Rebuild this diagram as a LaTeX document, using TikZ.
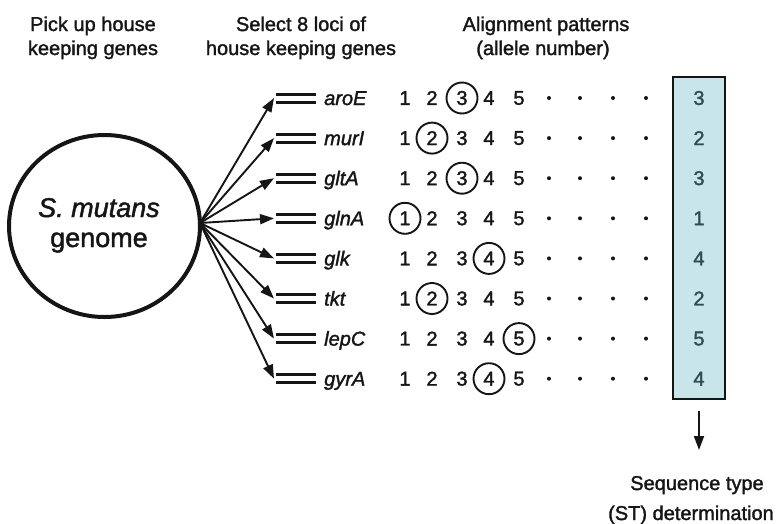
\documentclass[tikz,border=0pt]{standalone}
\usepackage{fontspec}
\setmainfont{Liberation Sans}[FakeBold=1.6]
\usetikzlibrary{arrows.meta,shapes.geometric}
\definecolor{boxfill}{HTML}{C8E5E9}
\definecolor{boxtext}{HTML}{2F4A50}
\definecolor{ink}{HTML}{151515}
\begin{document}
\begin{tikzpicture}[x=1pt,y=-1pt,
  font=\fontsize{20}{24}\selectfont, color=ink,
  hdr/.style={anchor=base, inner sep=0pt},
  gene/.style={anchor=base west, inner sep=0pt, yshift=-7pt, font=\fontsize{20}{24}\selectfont\itshape},
  num/.style={anchor=center, inner sep=0pt},
  circ/.style={draw, circle, minimum size=31pt, inner sep=0pt, line width=1.9pt},
  boxnum/.style={anchor=center, inner sep=0pt, text=boxtext},
  arr/.style={line width=1.9pt, -{Triangle[length=14pt,width=10pt]}},
  dbl/.style={line width=3pt},
  dotmark/.style={circle, fill=ink, inner sep=0pt, minimum size=4pt}
]
\useasboundingbox (0,0) rectangle (778,523);

% headers
\node[hdr] (h1a) at (93,31) {Pick up house};
\node[hdr] (h1b) at (93,55) {keeping genes};
\node[hdr] (h2a) at (301,31) {Select 8 loci of};
\node[hdr] (h2b) at (301,55) {house keeping genes};
\node[hdr] (h3a) at (546,31) {Alignment patterns};
\node[hdr] (h3b) at (543,55) {(allele number)};

% genome
\node[ellipse, draw, line width=4pt, minimum width=191pt, minimum height=182pt] (genome) at (104.5,226) {};
\node[hdr, font=\fontsize{27}{30}\selectfont\itshape] (gtxt1) at (99,217) {S. mutans};
\node[hdr, font=\fontsize{27}{30}\selectfont] (gtxt2) at (99,247) {genome};
\coordinate (src) at (200,223);

% ST box
\node[draw, fill=boxfill, line width=1.5pt, minimum width=52pt, minimum height=322pt, inner sep=0pt] (stbox) at (699,238) {};

\foreach \g/\c [count=\i from 0] in {aroE/3, murI/2, gltA/3, glnA/1, glk/4, tkt/2, lepC/5, gyrA/4}{
  \pgfmathsetmacro\yy{98+40.1*\i}
  \coordinate (tip\i) at (274,\yy);
  \draw[dbl] (276,\yy-4) -- (316,\yy-4);
  \draw[dbl] (276,\yy+4) -- (316,\yy+4);
  \draw[arr] (src) -- (tip\i);
  \node[gene] (g\i) at (324,\yy) {\g};
  \foreach \n/\xx in {1/405,2/432,3/462,4/489,5/519}{
    \node[num] (n\i-\n) at (\xx,\yy) {\n};
  }
  \node[circ] (c\i) at (n\i-\c) {};
  \foreach \xx [count=\k] in {549,580,613,646}{
    \node[dotmark] (d\i-\k) at (\xx,\yy) {};
  }
  \node[boxnum] (b\i) at (699,\yy) {\c};
}

% ST arrow and label
\coordinate (stend) at (699,450);
\draw[arr] ([yshift=-11pt]stbox.south) -- (stend);
\node[hdr] (st1) at (697,490) {Sequence type};
\node[hdr] (st2) at (691,520) {(ST) determination};
\end{tikzpicture}
\end{document}
